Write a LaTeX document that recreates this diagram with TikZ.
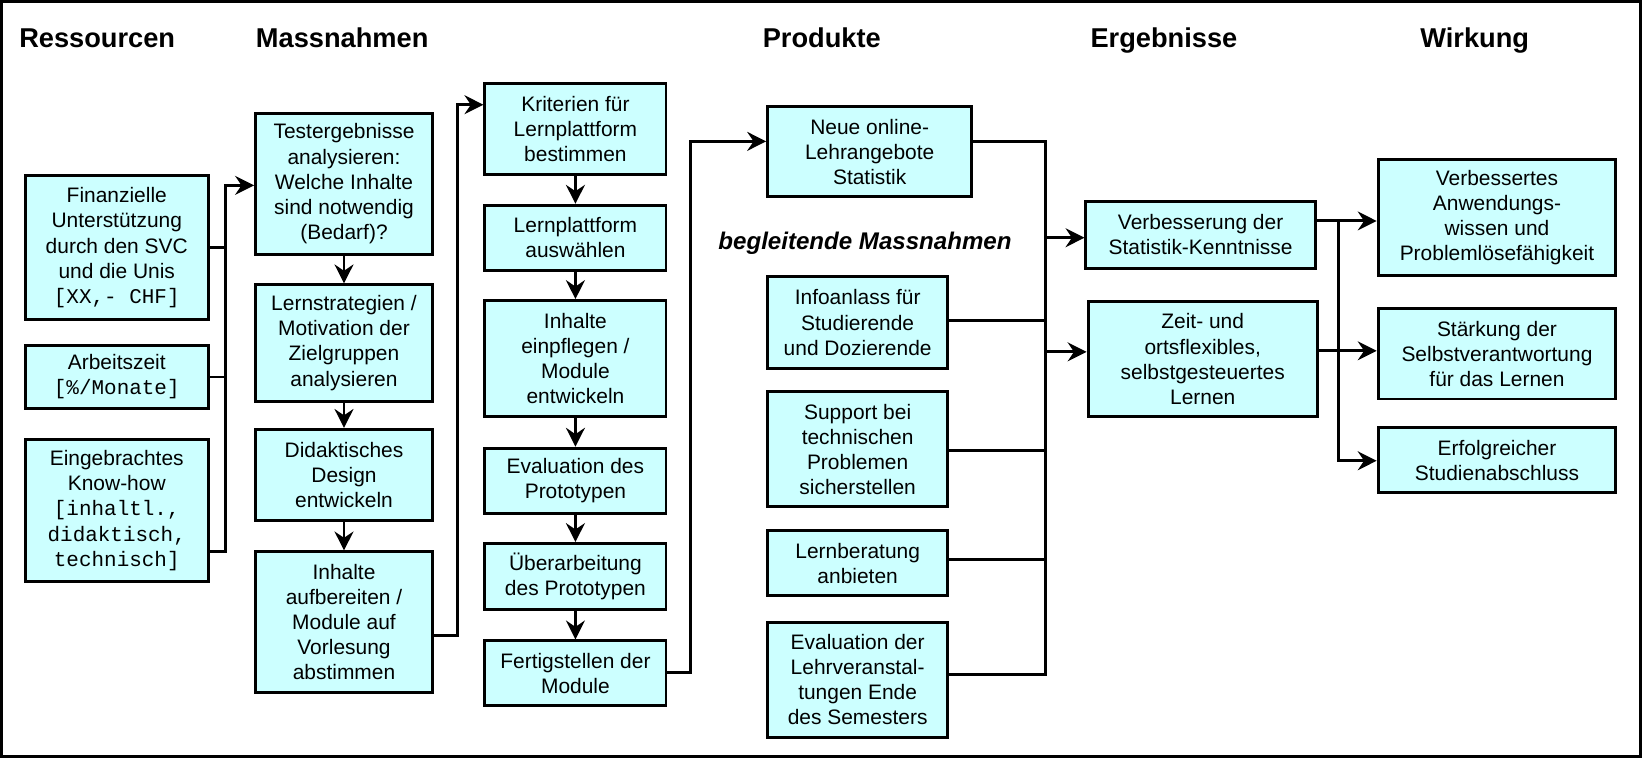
\documentclass[tikz,border=0pt]{standalone}
\usepackage{fontspec}
\setmainfont{Liberation Sans}
\newfontfamily\monofont{Liberation Mono}
\usetikzlibrary{arrows.meta}
\definecolor{boxcyan}{RGB}{204,255,255}
\newcommand{\mo}{\monofont}
\tikzset{
  box/.style={draw, line width=1.4pt, fill=boxcyan, align=center, inner sep=0pt,
    font=\fontsize{10}{12}\selectfont},
  head/.style={anchor=base west, inner sep=0pt, font=\fontsize{13}{15}\selectfont\bfseries},
  conn/.style={line width=1.4pt},
  arr/.style={line width=1.4pt, -{Stealth[length=9pt,width=9pt,inset=3pt]}}
}
\begin{document}
\begin{tikzpicture}[x=0.5pt,y=-0.5pt]
\useasboundingbox (0,0) rectangle (1568,724);
\fill[white] (0,0) rectangle (1568,724);
\draw[line width=1.5pt] (1.5,1.5) rectangle (1566.5,722.5);

% headers
\node[head] (hres) at (18,45) {Ressourcen};
\node[head] (hmas) at (244,45) {Massnahmen};
\node[head] (hpro) at (728,45) {Produkte};
\node[head] (herg) at (1041,45) {Ergebnisse};
\node[head] (hwir) at (1356,45) {Wirkung};
\node[inner sep=0pt, font=\fontsize{11.5}{13}\selectfont\bfseries\itshape] (beg) at (826,232) {begleitende Massnahmen};

% column 1
\node[box, minimum width=87.5pt, minimum height=68.5pt] (fin) at (111.5,236.5) {Finanzielle\\Unterstützung\\durch den SVC\\und die Unis\\{\mo [XX,- CHF]}};
\node[box, minimum width=87.5pt, minimum height=30pt] (arb) at (111.5,360) {Arbeitszeit\\{\mo [\%/Monate]}};
\node[box, minimum width=87.5pt, minimum height=67.5pt] (ein) at (111.5,487.5) {Eingebrachtes\\Know-how\\{\mo [inhaltl.,}\\{\mo didaktisch,}\\{\mo technisch]}};

% column 2
\node[box, minimum width=84.5pt, minimum height=67.5pt] (test) at (328.5,175.5) {Testergebnisse\\analysieren:\\Welche Inhalte\\sind notwendig\\(Bedarf)?};
\node[box, minimum width=84.5pt, minimum height=55.5pt] (lern) at (328.5,327.5) {Lernstrategien /\\Motivation der\\Zielgruppen\\analysieren};
\node[box, minimum width=84.5pt, minimum height=43.5pt] (did) at (328.5,453.5) {Didaktisches\\Design\\entwickeln};
\node[box, minimum width=84.5pt, minimum height=67pt] (inh) at (328.5,594) {Inhalte\\aufbereiten /\\Module auf\\Vorlesung\\abstimmen};

% column 3
\node[box, minimum width=86.5pt, minimum height=43.5pt] (krit) at (549.5,123.5) {Kriterien für\\Lernplattform\\bestimmen};
\node[box, minimum width=86.5pt, minimum height=31pt] (lpa) at (549.5,227) {Lernplattform\\auswählen};
\node[box, minimum width=86.5pt, minimum height=55.5pt] (einp) at (549.5,342.5) {Inhalte\\einpflegen /\\Module\\entwickeln};
\node[box, minimum width=86.5pt, minimum height=31pt] (eval) at (549.5,459) {Evaluation des\\Prototypen};
\node[box, minimum width=86.5pt, minimum height=31.5pt] (uber) at (549.5,550.5) {Überarbeitung\\des Prototypen};
\node[box, minimum width=86.5pt, minimum height=31pt] (fert) at (549.5,643) {Fertigstellen der\\Module};

% column 4
\node[box, minimum width=97.5pt, minimum height=43pt] (neue) at (830.5,145) {Neue online-\\Lehrangebote\\Statistik};
\node[box, minimum width=86pt, minimum height=44pt] (info) at (819,308) {Infoanlass für\\Studierende\\und Dozierende};
\node[box, minimum width=86pt, minimum height=55pt] (supp) at (819,429) {Support bei\\technischen\\Problemen\\sicherstellen};
\node[box, minimum width=86pt, minimum height=31pt] (lernb) at (819,538) {Lernberatung\\anbieten};
\node[box, minimum width=86pt, minimum height=55pt] (evall) at (819,649) {Evaluation der\\Lehrveranstal-\\tungen Ende\\des Semesters};

% column 5
\node[box, minimum width=109.5pt, minimum height=32pt] (verb) at (1146.5,224) {Verbesserung der\\Statistik-Kenntnisse};
\node[box, minimum width=109.5pt, minimum height=55pt] (zeit) at (1148.5,343) {Zeit- und\\ortsflexibles,\\selbstgesteuertes\\Lernen};

% column 6
\node[box, minimum width=113.5pt, minimum height=55.5pt] (verbe) at (1429.5,207.5) {Verbessertes\\Anwendungs-\\wissen und\\Problemlösefähigkeit};
\node[box, minimum width=113.5pt, minimum height=43pt] (staerk) at (1429.5,338) {Stärkung der\\Selbstverantwortung\\für das Lernen};
\node[box, minimum width=113.5pt, minimum height=31pt] (erf) at (1429.5,439.5) {Erfolgreicher\\Studienabschluss};

% bus coordinates
\coordinate (b1t) at (215,177);
\coordinate (b1b) at (215,527);
\coordinate (b2t) at (437,100);
\coordinate (b2b) at (437,607);
\coordinate (b3t) at (659,135);
\coordinate (b3b) at (659,642);
\coordinate (b4t) at (998,135);
\coordinate (b4i) at (998,306);
\coordinate (b4s) at (998,430);
\coordinate (b4l) at (998,534);
\coordinate (b4b) at (998,644);
\coordinate (b4v) at (998,227);
\coordinate (b4z) at (998,336);
\coordinate (b5t) at (1278,211);
\coordinate (b5b) at (1278,440);
\coordinate (b5z) at (1278,335);

% column 1 connectors
\draw[arr] (ein.east |- b1b) -- (b1b) -- (b1t) -- (b1t -| test.west);
\draw[conn] (fin.east) -- (fin.east -| b1t);
\draw[conn] (arb.east) -- (arb.east -| b1t);

% column 2
\draw[arr] (test) -- (lern);
\draw[arr] (lern) -- (did);
\draw[arr] (did) -- (inh);
\draw[arr] (inh.east |- b2b) -- (b2b) -- (b2t) -- (b2t -| krit.west);

% column 3
\draw[arr] (krit) -- (lpa);
\draw[arr] (lpa) -- (einp);
\draw[arr] (einp) -- (eval);
\draw[arr] (eval) -- (uber);
\draw[arr] (uber) -- (fert);
\draw[arr] (fert.east |- b3b) -- (b3b) -- (b3t) -- (b3t -| neue.west);

% column 4
\draw[conn] (neue.east |- b4t) -- (b4t) -- (b4b) -- (evall.east |- b4b);
\draw[conn] (info.east |- b4i) -- (b4i);
\draw[conn] (supp.east |- b4s) -- (b4s);
\draw[conn] (lernb.east |- b4l) -- (b4l);
\draw[arr] (b4v) -- (b4v -| verb.west);
\draw[arr] (b4z) -- (b4z -| zeit.west);

% column 5
\draw[arr] (verb.east |- b5t) -- (b5t -| verbe.west);
\draw[arr] (b5t) -- (b5b) -- (b5b -| erf.west);
\draw[arr] (zeit.east |- b5z) -- (b5z -| staerk.west);
\end{tikzpicture}
\end{document}
